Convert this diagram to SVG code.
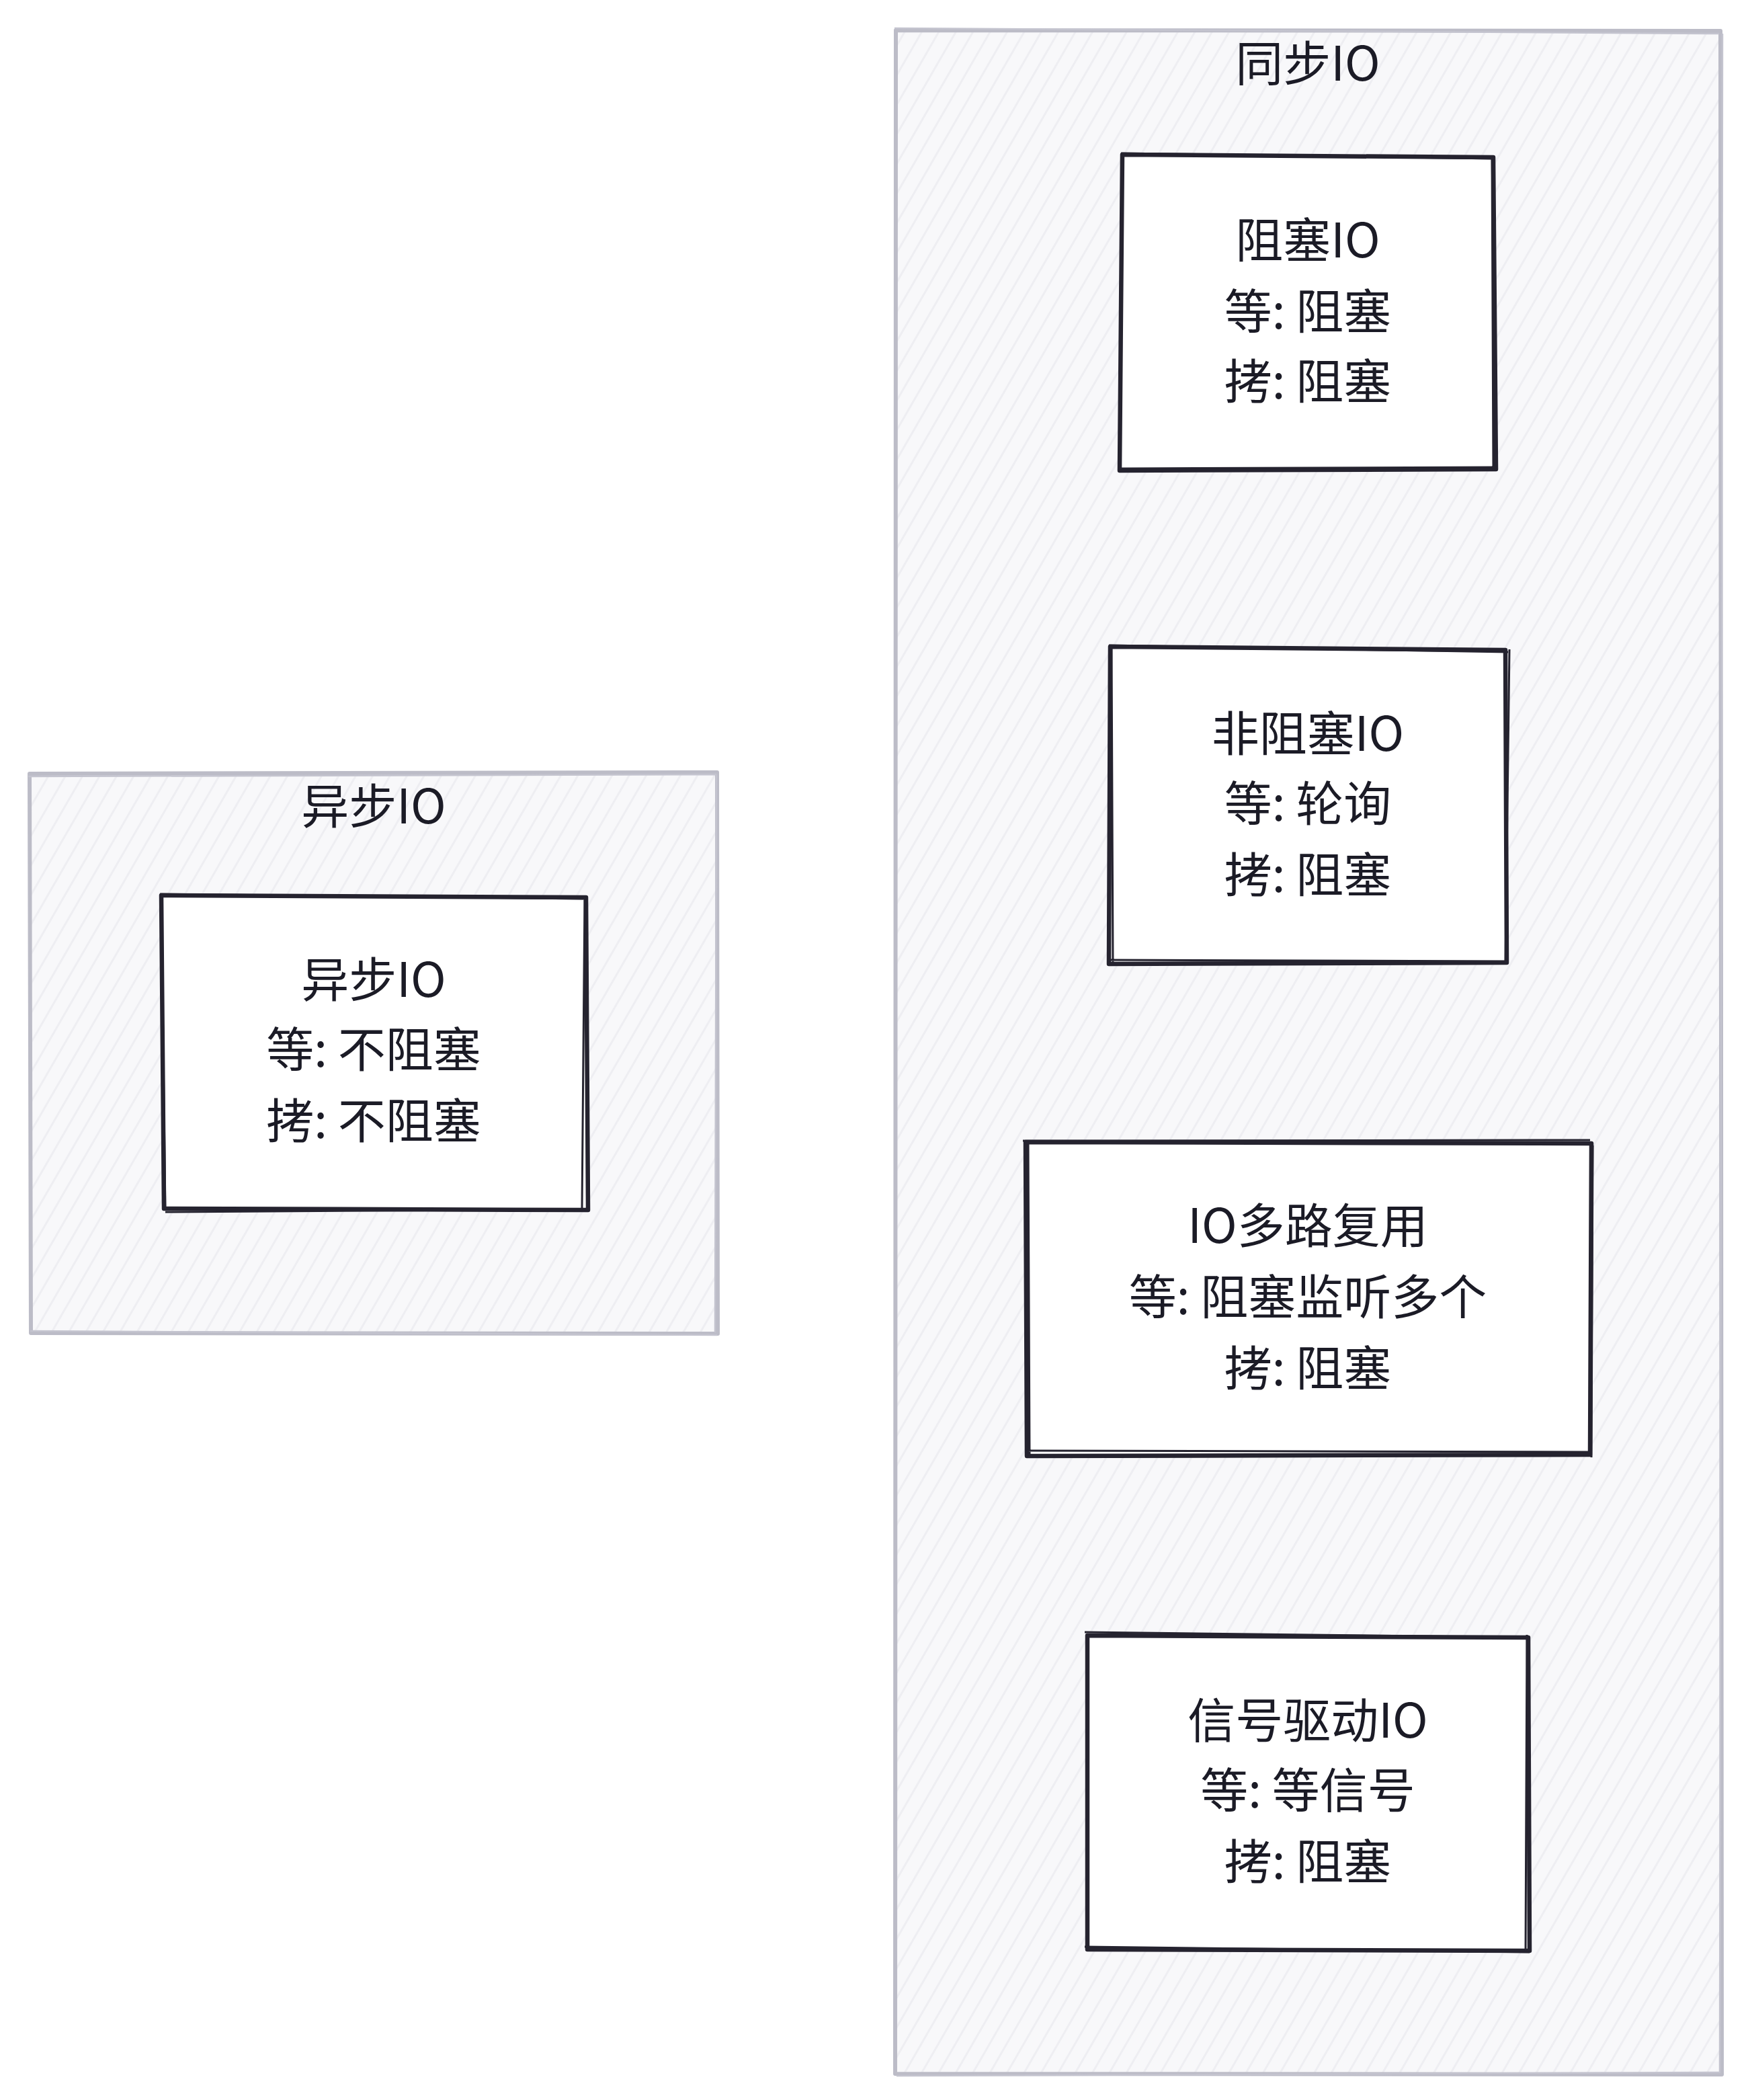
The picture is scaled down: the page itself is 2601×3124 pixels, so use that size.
<svg xmlns="http://www.w3.org/2000/svg" width="2601" height="3124" viewBox="0 0 2601 3124">
<defs>
<pattern id="hatch" patternUnits="userSpaceOnUse" width="22" height="22" patternTransform="rotate(30)">
<rect width="22" height="22" fill="#f8f8fa"/>
<line x1="0" y1="0" x2="0" y2="22" stroke="#eeeef2" stroke-width="6"/>
</pattern>
<style>
.frame{fill:url(#hatch);stroke:#bcbcc7;stroke-width:6;stroke-linejoin:round}
.frame2{fill:none;stroke:#c4c4cf;stroke-width:2.5}
.box{fill:#ffffff;stroke:#25232f;stroke-width:6.5;stroke-linejoin:round}
.box2{fill:none;stroke:#25232f;stroke-width:3}
.t{font-family:"Noto Sans CJK SC","Noto Sans",sans-serif;font-size:71px;fill:#1b1b26;text-anchor:middle}
</style>
</defs>
<rect width="2601" height="3124" fill="#ffffff"/>

<g id="frame-async">
<path class="frame" d="M44 1151 L1067 1149 L1068 1984 L46 1983 Z"/>
<path class="frame2" d="M42 1155 L1066 1152 M1066 1152 L1064 1982 M45 1980 L1067 1986"/>
<text class="t" x="556" y="1225">异步IO</text>
</g>

<g id="frame-sync">
<path class="frame" d="M1333 45 L2560 46 L2562 3086 L1332 3085 Z"/>
<path class="frame2" d="M1331 42 L2558 50 M2563 50 L2559 3082 M1334 3088 L2560 3083"/>
<text class="t" x="1946" y="120">同步IO</text>
</g>

<g id="node-async">
<path class="box" d="M240 1332 L872 1335 L875 1800 L244 1798 Z"/>
<path class="box2" d="M238 1330 L868 1337 M870 1334 L866 1798 M246 1803 L876 1799 M240 1331 L246 1800"/>
<text class="t" x="556" y="1483">异步IO</text>
<text class="t" x="556" y="1587">等: 不阻塞</text>
<text class="t" x="556" y="1693">拷: 不阻塞</text>
</g>

<g id="node-block">
<path class="box" d="M1670 230 L2222 234 L2226 698 L1666 700 Z"/>
<path class="box2" d="M1668 228 L2224 236 M2220 232 L2222 700 M1666 697 L2228 695"/>
<text class="t" x="1946" y="383">阻塞IO</text>
<text class="t" x="1946" y="489">等: 阻塞</text>
<text class="t" x="1946" y="593">拷: 阻塞</text>
</g>

<g id="node-nonblock">
<path class="box" d="M1652 962 L2240 967 L2242 1432 L1650 1434 Z"/>
<path class="box2" d="M1650 960 L2244 970 M2246 966 L2240 1433 M1648 1428 L2244 1430 M1654 962 L1656 1436"/>
<text class="t" x="1946" y="1117">非阻塞IO</text>
<text class="t" x="1946" y="1221">等: 轮询</text>
<text class="t" x="1946" y="1327">拷: 阻塞</text>
</g>

<g id="node-mux">
<path class="box" d="M1526 1699 L2368 1701 L2366 2164 L1528 2166 Z"/>
<path class="box2" d="M1522 1697 L2366 1696 M2370 1704 L2368 2168 M1528 2158 L2366 2160 M1530 1702 L1532 2166"/>
<text class="t" x="1946" y="1849">IO多路复用</text>
<text class="t" x="1946" y="1955">等: 阻塞监听多个</text>
<text class="t" x="1946" y="2061">拷: 阻塞</text>
</g>

<g id="node-signal">
<path class="box" d="M1618 2433 L2274 2436 L2276 2902 L1618 2900 Z"/>
<path class="box2" d="M1614 2428 L2276 2436 M2272 2432 L2270 2904 M1614 2896 L2276 2904"/>
<text class="t" x="1946" y="2585">信号驱动IO</text>
<text class="t" x="1946" y="2689">等: 等信号</text>
<text class="t" x="1946" y="2795">拷: 阻塞</text>
</g>

<g id="connectors"></g>
</svg>
